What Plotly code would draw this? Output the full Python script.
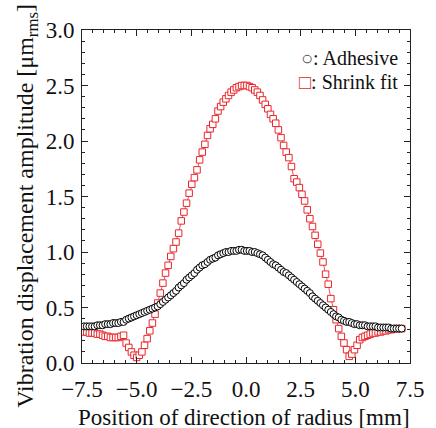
import plotly.graph_objects as go

# Measurement positions along the radius [mm]
position_mm = [
    -7.40, -7.28, -7.16, -7.04, -6.92, -6.80, -6.68, -6.56, -6.44, -6.32,
    -6.20, -6.08, -5.96, -5.84, -5.72, -5.60, -5.48, -5.36, -5.24, -5.12,
    -5.00, -4.88, -4.76, -4.64, -4.52, -4.40, -4.28, -4.16, -4.04, -3.92,
    -3.80, -3.68, -3.56, -3.44, -3.32, -3.20, -3.08, -2.96, -2.84, -2.72,
    -2.60, -2.48, -2.36, -2.24, -2.12, -2.00, -1.88, -1.76, -1.64, -1.52,
    -1.40, -1.28, -1.16, -1.04, -0.92, -0.80, -0.68, -0.56, -0.44, -0.32,
    -0.20, -0.08, 0.04, 0.16, 0.28, 0.40, 0.52, 0.64, 0.76, 0.88,
    1.00, 1.12, 1.24, 1.36, 1.48, 1.60, 1.72, 1.84, 1.96, 2.08,
    2.20, 2.32, 2.44, 2.56, 2.68, 2.80, 2.92, 3.04, 3.16, 3.28,
    3.40, 3.52, 3.64, 3.76, 3.88, 4.00, 4.12, 4.24, 4.36, 4.48,
    4.60, 4.72, 4.84, 4.96, 5.08, 5.20, 5.32, 5.44, 5.56, 5.68,
    5.80, 5.92, 6.04, 6.16, 6.28, 6.40, 6.52, 6.64, 6.76, 6.88,
    7.00, 7.12,
]

# Vibration displacement amplitude [um rms], adhesive joint
adhesive = [
    0.33, 0.33, 0.33, 0.33, 0.33, 0.34, 0.34, 0.34, 0.35, 0.35,
    0.35, 0.36, 0.36, 0.36, 0.37, 0.37, 0.39, 0.40, 0.41, 0.42,
    0.43, 0.44, 0.45, 0.46, 0.47, 0.48, 0.49, 0.50, 0.51, 0.53,
    0.55, 0.57, 0.59, 0.61, 0.63, 0.65, 0.68, 0.70, 0.72, 0.75,
    0.77, 0.79, 0.81, 0.84, 0.86, 0.88, 0.89, 0.91, 0.93, 0.94,
    0.95, 0.97, 0.98, 0.99, 1.00, 1.00, 1.01, 1.01, 1.01, 1.02,
    1.02, 1.01, 1.01, 1.01, 1.00, 1.00, 0.99, 0.98, 0.97, 0.95,
    0.93, 0.91, 0.89, 0.88, 0.86, 0.84, 0.82, 0.81, 0.79, 0.77,
    0.75, 0.73, 0.71, 0.69, 0.67, 0.65, 0.63, 0.60, 0.58, 0.56,
    0.54, 0.52, 0.50, 0.48, 0.46, 0.44, 0.42, 0.41, 0.39, 0.38,
    0.37, 0.37, 0.36, 0.35, 0.35, 0.34, 0.34, 0.34, 0.33, 0.33,
    0.33, 0.33, 0.32, 0.32, 0.32, 0.32, 0.32, 0.31, 0.31, 0.31,
    0.31, 0.31,
]

# Vibration displacement amplitude [um rms], shrink-fit joint
shrink_fit = [
    0.28, 0.28, 0.27, 0.27, 0.27, 0.26, 0.26, 0.25, 0.24, 0.24,
    0.23, 0.23, 0.23, 0.23, 0.24, 0.25, 0.18, 0.14, 0.10, 0.07,
    0.05, 0.07, 0.10, 0.16, 0.22, 0.29, 0.36, 0.44, 0.54, 0.63,
    0.72, 0.81, 0.88, 0.96, 1.03, 1.09, 1.17, 1.28, 1.36, 1.44,
    1.53, 1.61, 1.67, 1.74, 1.83, 1.90, 1.97, 2.05, 2.11, 2.15,
    2.20, 2.27, 2.31, 2.35, 2.38, 2.41, 2.44, 2.46, 2.48, 2.49,
    2.50, 2.50, 2.50, 2.49, 2.48, 2.46, 2.44, 2.41, 2.37, 2.33,
    2.29, 2.24, 2.20, 2.16, 2.10, 2.03, 1.96, 1.90, 1.85, 1.77,
    1.66, 1.63, 1.58, 1.52, 1.46, 1.38, 1.30, 1.23, 1.15, 1.07,
    0.99, 0.91, 0.80, 0.71, 0.58, 0.48, 0.39, 0.31, 0.24, 0.18,
    0.12, 0.06, 0.08, 0.12, 0.16, 0.21, 0.23, 0.24, 0.25, 0.26,
    0.27, 0.27, 0.28, 0.28, 0.29, 0.29, 0.30, 0.30, 0.31, 0.31,
    0.31, 0.31,
]

x_ticks = [-7.5, -5.0, -2.5, 0.0, 2.5, 5.0, 7.5]
y_ticks = [0.0, 0.5, 1.0, 1.5, 2.0, 2.5, 3.0]

FONT = "Liberation Serif"
RED = "#e8272d"

fig = go.Figure()

fig.add_trace(go.Scatter(
    x=position_mm, y=shrink_fit, mode="lines+markers",
    line=dict(color=RED, width=0.8),
    marker=dict(symbol="square", size=6.5, color="white",
                line=dict(color=RED, width=1)),
    showlegend=False,
))
fig.add_trace(go.Scatter(
    x=position_mm, y=adhesive, mode="lines+markers",
    line=dict(color="black", width=0.8),
    marker=dict(symbol="circle", size=7, color="white",
                line=dict(color="black", width=1)),
    showlegend=False,
))

axis_common = dict(
    showline=True, linecolor="#222", linewidth=1, mirror="ticks",
    ticks="inside", ticklen=6, tickwidth=1, tickcolor="#222",
    showgrid=False, zeroline=False,
    tickfont=dict(family=FONT, size=23, color="#111"),
)

fig.update_xaxes(
    range=[-7.5, 7.5], tickvals=x_ticks, tickformat=".1f",
    ticklabelstandoff=5,
    minor=dict(ticks="inside", ticklen=3, dtick=0.5, tickcolor="#222",
               showgrid=False),
    **axis_common,
)
fig.update_yaxes(
    range=[0, 3.0], tickvals=y_ticks, tickformat=".1f",
    ticklabelstandoff=2,
    minor=dict(ticks="inside", ticklen=3, dtick=0.1, tickcolor="#222",
               showgrid=False),
    **axis_common,
)

L, R, T, B = 82, 21, 30, 65
W, H = 436, 428
pw, ph = W - L - R, H - T - B

fig.add_annotation(
    text="Position of direction of radius [mm]",
    xref="paper", yref="paper", x=0.495, y=(0 - 54) / ph,
    xanchor="center", yanchor="middle", showarrow=False,
    font=dict(family=FONT, size=23, color="#111"),
)
fig.add_annotation(
    text="Vibration displacement amplitude [μm<sub>rms</sub>]",
    xref="paper", yref="paper", x=(26 - L) / pw, y=(H - B - 206) / ph,
    xanchor="center", yanchor="middle", textangle=-90, showarrow=False,
    font=dict(family=FONT, size=24, color="#111"),
)

# Legend drawn as text labels in the upper right corner
fig.add_annotation(
    text="<span style='color:#555'>○</span>: Adhesive",
    xref="paper", yref="paper", x=(405 - L) / pw, y=(H - B - 58) / ph,
    xanchor="right", yanchor="middle", showarrow=False,
    font=dict(family=FONT, size=20, color="#111"),
)
fig.add_annotation(
    text=f"<span style='color:{RED}'>□</span>: Shrink fit",
    xref="paper", yref="paper", x=(405 - L) / pw, y=(H - B - 82) / ph,
    xanchor="right", yanchor="middle", showarrow=False,
    font=dict(family=FONT, size=20, color="#111"),
)

fig.update_layout(
    width=W, height=H,
    margin=dict(l=L, r=R, t=T, b=B),
    paper_bgcolor="white", plot_bgcolor="white",
    showlegend=False,
)

fig.write_html("out.html")
